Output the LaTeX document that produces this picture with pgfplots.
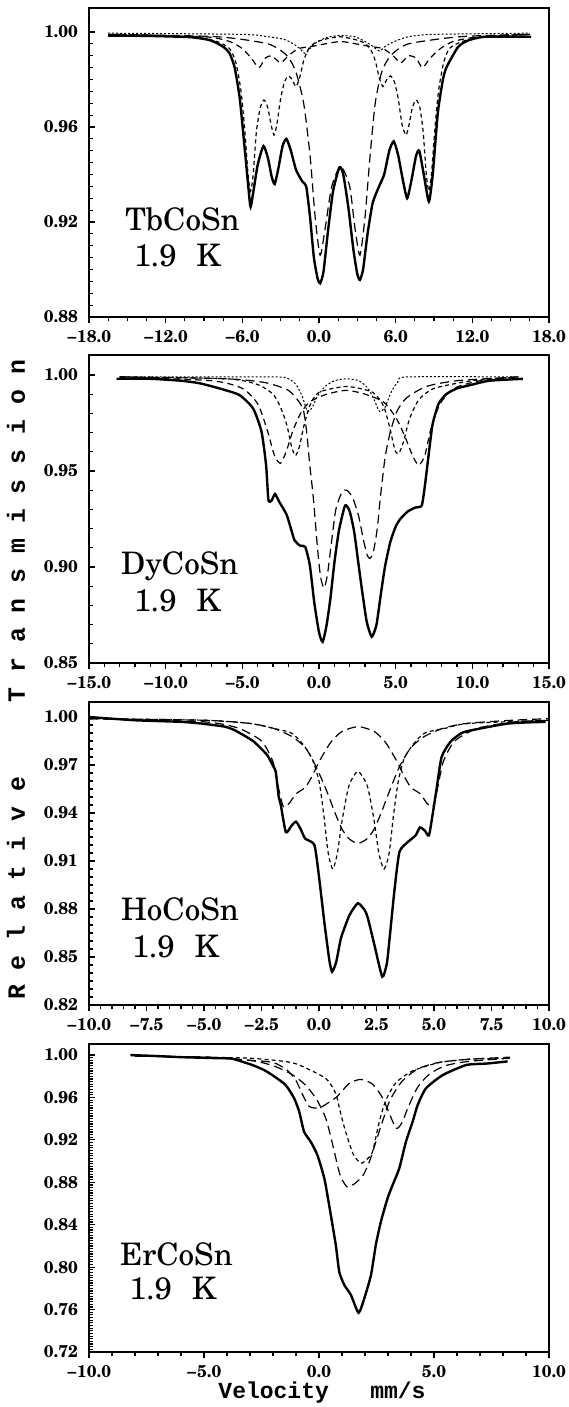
\documentclass[border=0pt]{standalone}
\usepackage{fontspec}
\setmainfont{TeX Gyre Schola}
\newfontfamily\monofont{Liberation Mono}
\usepackage{pgfplots}
\pgfplotsset{compat=1.18}
\tikzset{samp/.style={font=\fontsize{15.5}{17}\selectfont, anchor=base west, inner sep=0pt}}
\pgfplotsset{
 panel/.style={
   scale only axis, width=230pt, anchor=south west,
   axis line style={line width=0.8pt},
   every tick/.append style={line width=0.6pt, black},
   major tick length=3.2pt, minor tick length=2.2pt,
   tick pos=left,
   xtick align=outside, ytick align=inside,
   ticklabel style={font=\fontsize{8.5}{9}\selectfont\bfseries},
   yticklabel style={xshift=-2pt},
   xticklabel style={yshift=0pt},
 },
 fit/.style={black, line width=1.2pt, smooth, tension=0.35, no marks},
 sdash/.style={black, line width=0.6pt, dash pattern=on 2pt off 1.6pt, smooth, tension=0.4, no marks},
 ldash/.style={black, line width=0.6pt, dash pattern=on 4.5pt off 2.5pt, smooth, tension=0.4, no marks},
 mdash/.style={black, line width=0.6pt, dash pattern=on 3.2pt off 2.2pt, smooth, tension=0.4, no marks},
 fdot/.style={black, line width=0.5pt, dash pattern=on 1pt off 1pt, smooth, tension=0.4, no marks},
}
\begin{document}
\begin{tikzpicture}
\useasboundingbox (0,0) rectangle (284pt,-703.5pt);

% ---------------- Panel 1: TbCoSn ----------------
\begin{axis}[panel, at={(44.5pt,-158.5pt)}, height=154.5pt,
  xmin=-18, xmax=18, ymin=0.88, ymax=1.0101,
  xtick={-18,-12,-6,0,6,12,18},
  xticklabels={−18.0,−12.0,−6.0,0.0,6.0,12.0,18.0},
  ytick={0.88,0.92,0.96,1.00},
  yticklabels={0.88,0.92,0.96,1.00},
  minor x tick num=3, minor y tick num=7]
\addplot[fit] coordinates {
(-16.5,0.9985)(-13,0.9983)(-10,0.9978)(-8.5,0.9965)(-7.5,0.9938)(-7.0,0.991)(-6.6,0.985)
(-6.2,0.972)(-5.8,0.950)(-5.5,0.933)(-5.35,0.9264)(-5.1,0.934)(-4.8,0.944)(-4.35,0.952)
(-4.0,0.947)(-3.7,0.939)(-3.47,0.936)(-3.2,0.942)(-2.85,0.952)(-2.55,0.955)(-2.2,0.950)
(-1.8,0.942)(-1.3,0.937)(-1.0,0.935)(-0.7,0.922)(-0.4,0.905)(-0.1,0.896)(0.09,0.8942)
(0.35,0.899)(0.7,0.916)(1.1,0.933)(1.6,0.943)(1.9,0.940)(2.3,0.926)(2.7,0.908)(3.0,0.898)
(3.2,0.8956)(3.45,0.900)(3.8,0.915)(4.2,0.928)(4.7,0.935)(5.1,0.940)(5.5,0.950)(5.85,0.954)
(6.2,0.948)(6.55,0.938)(6.9,0.930)(7.25,0.938)(7.6,0.948)(7.85,0.950)(8.2,0.940)(8.6,0.9286)
(8.9,0.940)(9.3,0.966)(9.7,0.980)(10.0,0.9854)(10.9,0.9938)(11.7,0.9965)(13,0.998)(16.6,0.998)};
\addplot[ldash] coordinates {
(-16,0.999)(-8,0.998)(-4,0.995)(-2.5,0.990)(-1.8,0.983)(-1.2,0.970)(-0.7,0.948)(-0.3,0.922)
(0.09,0.906)(0.5,0.918)(1.0,0.935)(1.7,0.9435)(2.4,0.935)(2.8,0.918)(3.2,0.906)(3.6,0.922)
(4.0,0.948)(4.4,0.970)(4.9,0.983)(5.6,0.990)(7,0.995)(11,0.998)(16,0.999)};
\addplot[sdash] coordinates {
(-16.5,0.999)(-10,0.998)(-8,0.996)(-7,0.993)(-6.5,0.987)(-6.1,0.975)(-5.8,0.958)(-5.55,0.940)
(-5.35,0.933)(-5.15,0.940)(-4.9,0.958)(-4.6,0.968)(-4.3,0.9714)(-4.0,0.968)(-3.75,0.961)
(-3.52,0.9566)(-3.3,0.961)(-3.0,0.972)(-2.7,0.979)(-2.4,0.9815)(-2.1,0.980)(-1.8,0.977)
(-1.5,0.981)(-1.2,0.988)(-0.8,0.993)(-0.3,0.9955)(0.5,0.997)(1.6,0.998)(2.7,0.997)(3.5,0.9955)
(4.0,0.993)(4.4,0.988)(4.7,0.981)(5.0,0.977)(5.3,0.980)(5.6,0.9815)(5.9,0.979)(6.2,0.972)
(6.5,0.961)(6.81,0.9566)(7.05,0.961)(7.3,0.968)(7.6,0.9714)(7.9,0.968)(8.15,0.958)(8.4,0.940)
(8.6,0.933)(8.8,0.940)(9.05,0.958)(9.35,0.975)(9.75,0.987)(10.2,0.993)(11.2,0.996)(13,0.998)(16.5,0.999)};
\addplot[mdash] coordinates {
(-16.5,0.999)(-9,0.998)(-7,0.996)(-6,0.993)(-5.3,0.989)(-4.7,0.985)(-4.2,0.989)(-3.7,0.990)
(-3.0,0.987)(-2.4,0.990)(-1.6,0.993)(-0.5,0.994)(0.5,0.995)(1.7,0.996)(2.9,0.995)(3.9,0.994)
(5.0,0.993)(5.8,0.990)(6.4,0.987)(7.0,0.990)(7.6,0.989)(8.1,0.985)(8.7,0.989)(9.5,0.993)
(10.5,0.996)(12.5,0.998)(16.5,0.999)};
\addplot[fdot] coordinates {
(-16.5,0.9995)(-6,0.999)(-4,0.998)(-2.8,0.997)(-2.0,0.995)(-1.5,0.993)(-1.1,0.991)(-0.7,0.993)
(-0.1,0.996)(0.8,0.998)(1.8,0.9985)(2.8,0.998)(3.6,0.996)(4.2,0.994)(4.73,0.992)(5.2,0.994)
(5.9,0.996)(7,0.998)(9,0.999)(16.5,0.9995)};
\node[samp] at (rel axis cs:0.078,0.28) {TbCoSn};
\node[samp] at (rel axis cs:0.097,0.162) {1.9\hspace{10pt}K};
\end{axis}

% ---------------- Panel 2: DyCoSn ----------------
\begin{axis}[panel, at={(44.5pt,-331.5pt)}, height=154pt,
  xmin=-15, xmax=15, ymin=0.85, ymax=1.0104,
  xtick={-15,-10,-5,0,5,10,15},
  xticklabels={−15.0,−10.0,−5.0,0.0,5.0,10.0,15.0},
  ytick={0.85,0.90,0.95,1.00},
  yticklabels={0.85,0.90,0.95,1.00},
  minor x tick num=4, minor y tick num=4]
\addplot[fit] coordinates {
(-13.2,0.998)(-11,0.998)(-9,0.997)(-7.8,0.9957)(-6.5,0.993)(-5.2,0.9896)(-4.3,0.9826)
(-3.75,0.9705)(-3.45,0.953)(-3.3,0.935)(-3.1,0.9345)(-2.87,0.938)(-2.6,0.934)(-2.1,0.927)
(-1.6,0.914)(-1.2,0.911)(-0.9,0.9105)(-0.6,0.901)(-0.3,0.881)(0.0,0.866)(0.24,0.861)
(0.5,0.870)(0.75,0.884)(1.0,0.902)(1.3,0.919)(1.7,0.932)(2.0,0.929)(2.3,0.918)(2.7,0.894)
(3.1,0.872)(3.44,0.8637)(3.75,0.870)(4.0,0.884)(4.3,0.900)(4.65,0.913)(5.0,0.921)(5.3,0.925)
(5.8,0.929)(6.3,0.931)(6.7,0.932)(6.9,0.942)(7.1,0.955)(7.4,0.974)(7.8,0.985)(8.3,0.990)
(9.0,0.993)(10,0.995)(11.1,0.997)(13.3,0.998)};
\addplot[ldash] coordinates {
(-13,0.999)(-6,0.998)(-3.5,0.996)(-2,0.992)(-1.3,0.986)(-1.0,0.981)(-0.8,0.970)(-0.6,0.953)
(-0.37,0.936)(-0.1,0.91)(0.1,0.895)(0.33,0.889)(0.55,0.896)(0.8,0.912)(1.1,0.930)(1.5,0.939)
(1.81,0.940)(2.2,0.936)(2.6,0.926)(2.9,0.914)(3.15,0.906)(3.33,0.9045)(3.55,0.908)(3.8,0.920)
(4.0,0.936)(4.31,0.957)(4.64,0.970)(5.08,0.981)(5.7,0.988)(7,0.994)(9,0.997)(13,0.999)};
\addplot[sdash] coordinates {
(-13,0.999)(-6,0.998)(-4,0.995)(-3,0.990)(-2.5,0.983)(-2.1,0.974)(-1.8,0.963)(-1.55,0.958)
(-1.3,0.962)(-1.0,0.973)(-0.6,0.984)(0,0.991)(1.8,0.994)(3.5,0.991)(4.2,0.984)(4.6,0.973)
(4.95,0.961)(5.2,0.959)(5.5,0.965)(5.9,0.977)(6.5,0.987)(7.5,0.993)(10,0.997)(13,0.999)};
\addplot[mdash] coordinates {
(-13,0.999)(-7,0.997)(-5,0.993)(-4,0.985)(-3.4,0.972)(-2.9,0.958)(-2.5,0.954)(-2.1,0.961)
(-1.7,0.971)(-1.2,0.980)(-0.6,0.986)(0.5,0.990)(1.8,0.992)(3,0.990)(4.2,0.986)(5.0,0.978)
(5.6,0.968)(6.1,0.958)(6.5,0.953)(6.9,0.958)(7.3,0.972)(7.9,0.985)(8.8,0.993)(10.5,0.997)(13,0.999)};
\addplot[fdot] coordinates {
(-13,0.999)(-3,0.999)(-2,0.998)(-1.5,0.995)(-1.1,0.989)(-0.75,0.981)(-0.45,0.983)(-0.1,0.989)
(0.4,0.994)(1.0,0.997)(1.8,0.998)(2.6,0.997)(3.2,0.993)(3.6,0.987)(3.95,0.981)(4.3,0.983)
(4.7,0.991)(5.2,0.997)(5.8,0.999)(13,0.999)};
\node[samp] at (rel axis cs:0.069,0.286) {DyCoSn};
\node[samp] at (rel axis cs:0.097,0.166) {1.9\hspace{10pt}K};
\end{axis}

% ---------------- Panel 3: HoCoSn ----------------
\begin{axis}[panel, at={(44.5pt,-502.5pt)}, height=151.5pt,
  xmin=-10, xmax=10, ymin=0.82, ymax=1.0094,
  xtick={-10,-7.5,-5,-2.5,0,2.5,5,7.5,10},
  xticklabels={−10.0,−7.5,−5.0,−2.5,0.0,2.5,5.0,7.5,10.0},
  ytick={0.82,0.85,0.88,0.91,0.94,0.97,1.00},
  yticklabels={0.82,0.85,0.88,0.91,0.94,0.97,1.00},
  minor x tick num=4, minor y tick num=5]
\addplot[fit] coordinates {
(-10,1.000)(-8,0.998)(-6,0.997)(-5.15,0.996)(-4.1,0.994)(-3.7,0.992)(-3.2,0.988)(-2.83,0.9846)
(-2.5,0.980)(-2.24,0.976)(-1.98,0.969)(-1.88,0.9658)(-1.75,0.950)(-1.66,0.945)(-1.44,0.928)
(-1.2,0.932)(-1.0,0.9346)(-0.8,0.930)(-0.6,0.924)(-0.2,0.920)(0.01,0.899)(0.23,0.872)
(0.45,0.848)(0.57,0.8408)(0.75,0.847)(0.96,0.862)(1.32,0.876)(1.69,0.8836)(2.0,0.879)
(2.13,0.874)(2.41,0.8575)(2.75,0.8377)(2.95,0.846)(3.07,0.8617)(3.29,0.893)(3.5,0.9158)
(3.87,0.922)(4.2,0.926)(4.39,0.931)(4.6,0.929)(4.78,0.926)(4.95,0.940)(5.1,0.954)(5.33,0.975)
(5.72,0.9846)(6.2,0.990)(6.68,0.9919)(8.25,0.996)(9.85,0.997)};
\addplot[sdash] coordinates {
(-10,0.999)(-5,0.998)(-3,0.996)(-2,0.993)(-1.2,0.990)(-0.7,0.983)(-0.3,0.974)(0,0.960)
(0.2,0.940)(0.4,0.915)(0.6,0.905)(0.8,0.915)(1.0,0.935)(1.3,0.957)(1.69,0.966)(2.1,0.957)
(2.4,0.935)(2.6,0.915)(2.83,0.905)(3.05,0.915)(3.25,0.940)(3.45,0.960)(3.7,0.974)(4.1,0.983)
(4.6,0.990)(5.5,0.993)(6.5,0.996)(10,0.998)};
\addplot[ldash] coordinates {
(-10,0.999)(-5,0.997)(-3.5,0.993)(-2.5,0.985)(-2.0,0.972)(-1.75,0.955)(-1.55,0.944)(-1.3,0.946)
(-1.0,0.952)(-0.6,0.956)(-0.3,0.963)(0,0.972)(0.5,0.984)(1.0,0.991)(1.7,0.994)(2.4,0.991)
(2.9,0.984)(3.4,0.972)(3.7,0.963)(4.0,0.956)(4.4,0.952)(4.7,0.946)(4.95,0.944)(5.15,0.955)
(5.4,0.972)(5.9,0.985)(6.9,0.993)(8.5,0.997)(10,0.998)};
\addplot[ldash] coordinates {
(-10,0.999)(-5,0.998)(-3,0.996)(-2,0.993)(-1.2,0.988)(-0.6,0.981)(-0.13,0.969)(0.3,0.955)
(0.7,0.940)(1.0,0.930)(1.3,0.924)(1.69,0.921)(2.1,0.924)(2.4,0.930)(2.7,0.940)(3.1,0.955)
(3.5,0.969)(4.0,0.981)(4.6,0.988)(5.4,0.993)(6.4,0.996)(8.4,0.998)(10,0.999)};
\node[samp] at (rel axis cs:0.069,0.28) {HoCoSn};
\node[samp] at (rel axis cs:0.093,0.158) {1.9\hspace{10pt}K};
\end{axis}

% ---------------- Panel 4: ErCoSn ----------------
\begin{axis}[panel, at={(44.5pt,-676pt)}, height=154pt,
  xmin=-10, xmax=10, ymin=0.72, ymax=1.0104,
  xtick={-10,-5,0,5,10},
  xticklabels={−10.0,−5.0,0.0,5.0,10.0},
  ytick={0.72,0.76,0.80,0.84,0.88,0.92,0.96,1.00},
  yticklabels={0.72,0.76,0.80,0.84,0.88,0.92,0.96,1.00},
  minor x tick num=4, minor y tick num=15]
\addplot[fit] coordinates {
(-8.2,1.000)(-7,0.999)(-6,0.998)(-4.34,0.997)(-3.77,0.9965)(-2.9,0.9906)(-2.4,0.986)
(-2.03,0.9811)(-1.45,0.9717)(-1.08,0.9592)(-0.86,0.9466)(-0.65,0.9277)(-0.36,0.9183)
(-0.07,0.9057)(0.23,0.8838)(0.44,0.8586)(0.73,0.8209)(0.88,0.7957)(1.1,0.7832)(1.39,0.7737)
(1.72,0.757)(1.97,0.7706)(2.26,0.7926)(2.47,0.8209)(2.69,0.8428)(2.98,0.8649)(3.2,0.8774)
(3.49,0.8932)(3.78,0.9183)(4.07,0.9371)(4.29,0.9529)(4.65,0.9686)(5.38,0.9811)(6.4,0.9906)
(7.3,0.992)(8.2,0.994)};
\addplot[sdash] coordinates {
(-8,0.999)(-5,0.998)(-3,0.997)(-1.5,0.994)(-0.86,0.9906)(0.29,0.978)(0.72,0.964)(0.92,0.947)
(1.1,0.932)(1.24,0.922)(1.5,0.906)(1.82,0.898)(2.1,0.902)(2.33,0.909)(2.62,0.937)(2.9,0.957)
(3.35,0.974)(4.07,0.985)(5.24,0.993)(6.5,0.996)(8.3,0.997)};
\addplot[ldash] coordinates {
(-8,0.999)(-5,0.998)(-3,0.995)(-2,0.993)(-1.4,0.986)(-1.0,0.976)(-0.7,0.962)(-0.45,0.952)
(-0.2,0.950)(0.1,0.951)(0.4,0.955)(0.8,0.961)(1.3,0.973)(1.8,0.977)(2.3,0.973)(2.7,0.962)
(3.0,0.948)(3.35,0.931)(3.6,0.936)(3.9,0.952)(4.3,0.970)(4.8,0.982)(5.5,0.990)(6.5,0.994)(8.3,0.997)};
\addplot[ldash] coordinates {
(-8,0.999)(-5,0.998)(-3,0.995)(-2,0.990)(-1.2,0.982)(-0.6,0.972)(-0.1,0.958)(0.3,0.940)
(0.6,0.915)(0.9,0.888)(1.2,0.876)(1.5,0.878)(1.9,0.886)(2.2,0.900)(2.5,0.920)(2.8,0.940)
(3.1,0.958)(3.6,0.975)(4.3,0.987)(5.2,0.993)(6.5,0.996)(8.3,0.998)};
\node[samp] at (rel axis cs:0.067,0.282) {ErCoSn};
\node[samp] at (rel axis cs:0.087,0.169) {1.9\hspace{10pt}K};
\end{axis}

% axis titles
\node[rotate=90, anchor=center, inner sep=0pt, font=\monofont\bfseries\fontsize{12.4}{13}\selectfont]
  at (8pt,-340pt) {R~e~l~a~t~i~v~e~~~~~T~r~a~n~s~m~i~s~s~i~o~n};
\node[anchor=base, inner sep=0pt, font=\monofont\bfseries\fontsize{11.5}{12}\selectfont]
  at (161pt,-699pt) {Velocity~~~mm/s};
\end{tikzpicture}
\end{document}
